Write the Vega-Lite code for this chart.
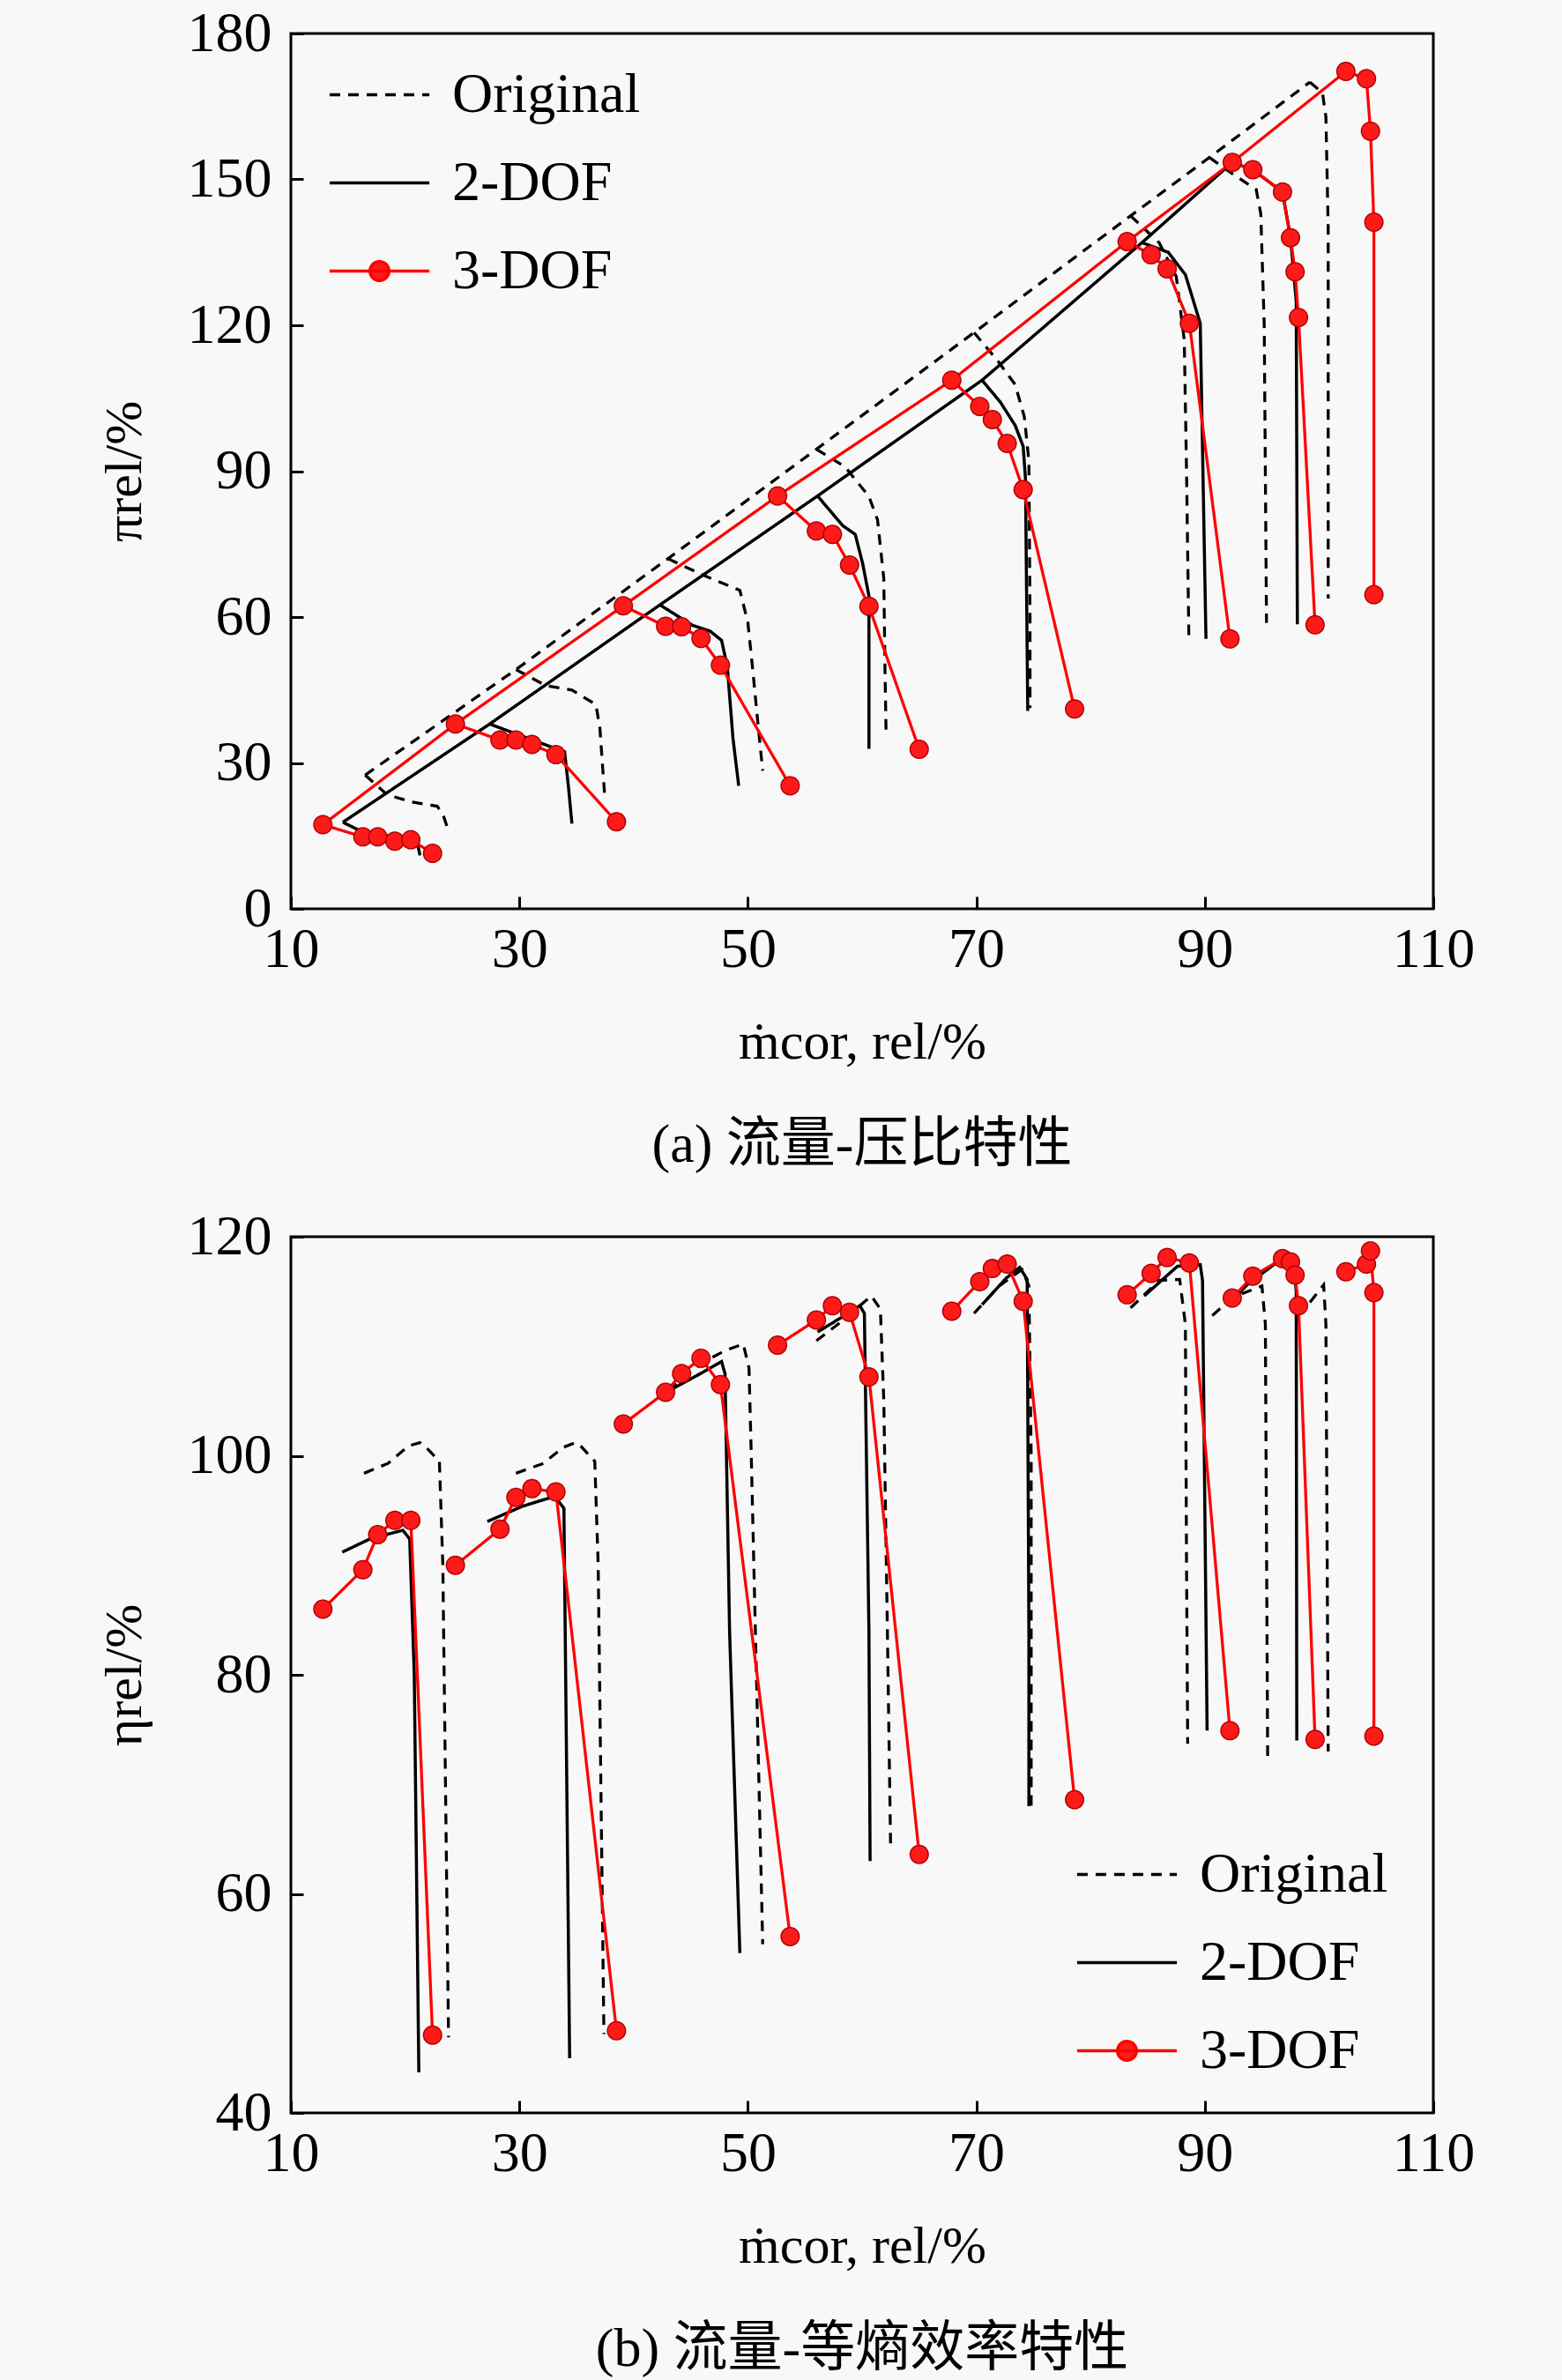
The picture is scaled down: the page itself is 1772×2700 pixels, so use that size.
{
  "$schema": "https://vega.github.io/schema/vega-lite/v6.json",
  "background": "#f8f8f8",
  "padding": {"left": 109, "top": 4, "right": 97, "bottom": 5},
  "spacing": 37,
  "resolve": {"scale": {"color": "independent", "strokeDash": "independent"}, "legend": {"color": "independent", "strokeDash": "independent"}},
  "config": {
    "font": "Liberation Serif",
    "view": {"stroke": "#000000", "strokeWidth": 3},
    "axis": {"domain": false, "grid": false, "ticks": true, "tickSize": -14, "tickWidth": 3, "tickColor": "#000000", "labelFont": "Liberation Serif", "labelFontSize": 64, "labelColor": "#000000", "labelFlush": false, "labelOverlap": false, "labelBound": false, "titleFont": "Liberation Serif", "titleFontSize": 60, "titleFontWeight": "normal", "titleColor": "#000000"},
    "axisX": {"labelPadding": 28, "titlePadding": 44},
    "axisY": {"labelPadding": 36, "titlePadding": 40},
    "legend": {"symbolType": "stroke", "symbolSize": 12800, "symbolStrokeWidth": 3.5, "labelFont": "Liberation Serif", "labelFontSize": 64, "labelColor": "#000000", "labelOffset": 24, "labelLimit": 0, "rowPadding": 9, "padding": 0, "title": null},
    "title": {"font": "Liberation Serif, Noto Sans CJK SC", "fontSize": 62, "fontWeight": "normal", "color": "#000000"}
  },
  "datasets": {
    "top": [
      {"series":"Original","line":"OS","i":0,"x":16.5,"y":27.5},{"series":"Original","line":"OS","i":1,"x":29.7,"y":49.2},{"series":"Original","line":"OS","i":2,"x":43.0,"y":72.0},{"series":"Original","line":"OS","i":3,"x":56.0,"y":94.5},{"series":"Original","line":"OS","i":4,"x":69.8,"y":118.5},{"series":"Original","line":"OS","i":5,"x":83.5,"y":142.5},{"series":"Original","line":"OS","i":6,"x":90.4,"y":154.5},{"series":"Original","line":"OS","i":7,"x":99.2,"y":170.0},
      {"series":"Original","line":"O1","i":0,"x":16.5,"y":27.5},{"series":"Original","line":"O1","i":1,"x":18.4,"y":23.5},{"series":"Original","line":"O1","i":2,"x":20.5,"y":22.0},{"series":"Original","line":"O1","i":3,"x":22.8,"y":21.1},{"series":"Original","line":"O1","i":4,"x":23.3,"y":19.5},{"series":"Original","line":"O1","i":5,"x":23.8,"y":16.0},
      {"series":"Original","line":"O2","i":0,"x":29.7,"y":49.2},{"series":"Original","line":"O2","i":1,"x":32.3,"y":45.9},{"series":"Original","line":"O2","i":2,"x":34.6,"y":45.0},{"series":"Original","line":"O2","i":3,"x":36.7,"y":42.0},{"series":"Original","line":"O2","i":4,"x":37.05,"y":37.1},{"series":"Original","line":"O2","i":5,"x":37.3,"y":28.7},{"series":"Original","line":"O2","i":6,"x":37.5,"y":22.3},
      {"series":"Original","line":"O3","i":0,"x":43.0,"y":72.0},{"series":"Original","line":"O3","i":1,"x":46.2,"y":68.5},{"series":"Original","line":"O3","i":2,"x":49.3,"y":65.5},{"series":"Original","line":"O3","i":3,"x":50.0,"y":58.9},{"series":"Original","line":"O3","i":4,"x":50.4,"y":49.8},{"series":"Original","line":"O3","i":5,"x":50.9,"y":37.7},{"series":"Original","line":"O3","i":6,"x":51.3,"y":28.4},
      {"series":"Original","line":"O4","i":0,"x":56.0,"y":94.5},{"series":"Original","line":"O4","i":1,"x":58.5,"y":90.9},{"series":"Original","line":"O4","i":2,"x":60.6,"y":84.8},{"series":"Original","line":"O4","i":3,"x":61.35,"y":80.0},{"series":"Original","line":"O4","i":4,"x":61.9,"y":67.9},{"series":"Original","line":"O4","i":5,"x":62.0,"y":50.0},{"series":"Original","line":"O4","i":6,"x":62.1,"y":36.0},
      {"series":"Original","line":"O5","i":0,"x":69.8,"y":118.5},{"series":"Original","line":"O5","i":1,"x":71.9,"y":112.6},{"series":"Original","line":"O5","i":2,"x":73.4,"y":107.8},{"series":"Original","line":"O5","i":3,"x":74.2,"y":101.2},{"series":"Original","line":"O5","i":4,"x":74.6,"y":92.1},{"series":"Original","line":"O5","i":5,"x":74.7,"y":60.0},{"series":"Original","line":"O5","i":6,"x":74.7,"y":41.3},
      {"series":"Original","line":"O6","i":0,"x":83.5,"y":142.5},{"series":"Original","line":"O6","i":1,"x":86.0,"y":137.0},{"series":"Original","line":"O6","i":2,"x":87.5,"y":130.0},{"series":"Original","line":"O6","i":3,"x":88.2,"y":117.0},{"series":"Original","line":"O6","i":4,"x":88.4,"y":90.0},{"series":"Original","line":"O6","i":5,"x":88.6,"y":56.3},
      {"series":"Original","line":"O7","i":0,"x":90.4,"y":154.5},{"series":"Original","line":"O7","i":1,"x":92.5,"y":151.0},{"series":"Original","line":"O7","i":2,"x":94.5,"y":147.9},{"series":"Original","line":"O7","i":3,"x":94.9,"y":142.9},{"series":"Original","line":"O7","i":4,"x":95.2,"y":120.0},{"series":"Original","line":"O7","i":5,"x":95.4,"y":58.8},
      {"series":"Original","line":"O8","i":0,"x":99.2,"y":170.0},{"series":"Original","line":"O8","i":1,"x":100.3,"y":167.8},{"series":"Original","line":"O8","i":2,"x":100.6,"y":162.8},{"series":"Original","line":"O8","i":3,"x":100.8,"y":140.0},{"series":"Original","line":"O8","i":4,"x":100.8,"y":63.8},
      {"series":"2-DOF","line":"TS","i":0,"x":14.55,"y":17.8},{"series":"2-DOF","line":"TS","i":1,"x":27.4,"y":38.0},{"series":"2-DOF","line":"TS","i":2,"x":42.3,"y":62.5},{"series":"2-DOF","line":"TS","i":3,"x":56.1,"y":84.9},{"series":"2-DOF","line":"TS","i":4,"x":70.5,"y":108.7},{"series":"2-DOF","line":"TS","i":5,"x":84.5,"y":137.0},{"series":"2-DOF","line":"TS","i":6,"x":92.4,"y":153.5},
      {"series":"2-DOF","line":"T1","i":0,"x":14.55,"y":17.8},{"series":"2-DOF","line":"T1","i":1,"x":16.1,"y":16.0},{"series":"2-DOF","line":"T1","i":2,"x":18.5,"y":15.0},{"series":"2-DOF","line":"T1","i":3,"x":21.0,"y":14.2},{"series":"2-DOF","line":"T1","i":4,"x":21.3,"y":11.0},
      {"series":"2-DOF","line":"T2","i":0,"x":27.4,"y":38.0},{"series":"2-DOF","line":"T2","i":1,"x":32.55,"y":33.5},{"series":"2-DOF","line":"T2","i":2,"x":33.96,"y":32.3},{"series":"2-DOF","line":"T2","i":3,"x":34.3,"y":25.0},{"series":"2-DOF","line":"T2","i":4,"x":34.6,"y":17.5},
      {"series":"2-DOF","line":"T3","i":0,"x":42.3,"y":62.5},{"series":"2-DOF","line":"T3","i":1,"x":45.15,"y":58.3},{"series":"2-DOF","line":"T3","i":2,"x":46.7,"y":57.1},{"series":"2-DOF","line":"T3","i":3,"x":47.7,"y":55.2},{"series":"2-DOF","line":"T3","i":4,"x":48.2,"y":49.8},{"series":"2-DOF","line":"T3","i":5,"x":48.7,"y":35.0},{"series":"2-DOF","line":"T3","i":6,"x":49.2,"y":25.3},
      {"series":"2-DOF","line":"T4","i":0,"x":56.1,"y":84.9},{"series":"2-DOF","line":"T4","i":1,"x":58.3,"y":78.8},{"series":"2-DOF","line":"T4","i":2,"x":59.4,"y":77.0},{"series":"2-DOF","line":"T4","i":3,"x":60.05,"y":71.0},{"series":"2-DOF","line":"T4","i":4,"x":60.6,"y":64.3},{"series":"2-DOF","line":"T4","i":5,"x":60.6,"y":32.9},
      {"series":"2-DOF","line":"T5","i":0,"x":70.5,"y":108.7},{"series":"2-DOF","line":"T5","i":1,"x":72.1,"y":104.2},{"series":"2-DOF","line":"T5","i":2,"x":73.4,"y":99.4},{"series":"2-DOF","line":"T5","i":3,"x":74.1,"y":95.1},{"series":"2-DOF","line":"T5","i":4,"x":74.3,"y":88.5},{"series":"2-DOF","line":"T5","i":5,"x":74.5,"y":40.7},
      {"series":"2-DOF","line":"T6","i":0,"x":84.5,"y":137.0},{"series":"2-DOF","line":"T6","i":1,"x":86.8,"y":135.0},{"series":"2-DOF","line":"T6","i":2,"x":88.3,"y":130.4},{"series":"2-DOF","line":"T6","i":3,"x":89.6,"y":120.4},{"series":"2-DOF","line":"T6","i":4,"x":90.1,"y":55.5},
      {"series":"2-DOF","line":"T7","i":0,"x":92.4,"y":153.5},{"series":"2-DOF","line":"T7","i":1,"x":94.2,"y":152.0},{"series":"2-DOF","line":"T7","i":2,"x":96.8,"y":147.4},{"series":"2-DOF","line":"T7","i":3,"x":97.5,"y":138.0},{"series":"2-DOF","line":"T7","i":4,"x":98.0,"y":125.0},{"series":"2-DOF","line":"T7","i":5,"x":98.1,"y":58.5},
      {"series":"3-DOF","line":"RS","i":0,"x":12.8,"y":17.3},{"series":"3-DOF","line":"RS","i":1,"x":24.4,"y":38.0},{"series":"3-DOF","line":"RS","i":2,"x":39.1,"y":62.3},{"series":"3-DOF","line":"RS","i":3,"x":52.6,"y":84.9},{"series":"3-DOF","line":"RS","i":4,"x":67.85,"y":108.7},{"series":"3-DOF","line":"RS","i":5,"x":83.2,"y":137.2},{"series":"3-DOF","line":"RS","i":6,"x":92.4,"y":153.5},{"series":"3-DOF","line":"RS","i":7,"x":102.35,"y":172.2},
      {"series":"3-DOF","line":"R1","i":0,"x":12.8,"y":17.3},{"series":"3-DOF","line":"R1","i":1,"x":16.3,"y":14.8},{"series":"3-DOF","line":"R1","i":2,"x":17.6,"y":14.8},{"series":"3-DOF","line":"R1","i":3,"x":19.1,"y":13.9},{"series":"3-DOF","line":"R1","i":4,"x":20.5,"y":14.2},{"series":"3-DOF","line":"R1","i":5,"x":22.4,"y":11.4},
      {"series":"3-DOF","line":"R2","i":0,"x":24.4,"y":38.0},{"series":"3-DOF","line":"R2","i":1,"x":28.3,"y":34.7},{"series":"3-DOF","line":"R2","i":2,"x":29.7,"y":34.7},{"series":"3-DOF","line":"R2","i":3,"x":31.1,"y":33.8},{"series":"3-DOF","line":"R2","i":4,"x":33.2,"y":31.7},{"series":"3-DOF","line":"R2","i":5,"x":38.5,"y":17.9},
      {"series":"3-DOF","line":"R3","i":0,"x":39.1,"y":62.3},{"series":"3-DOF","line":"R3","i":1,"x":42.8,"y":58.1},{"series":"3-DOF","line":"R3","i":2,"x":44.2,"y":58.0},{"series":"3-DOF","line":"R3","i":3,"x":45.9,"y":55.6},{"series":"3-DOF","line":"R3","i":4,"x":47.6,"y":50.1},{"series":"3-DOF","line":"R3","i":5,"x":53.7,"y":25.3},
      {"series":"3-DOF","line":"R4","i":0,"x":52.6,"y":84.9},{"series":"3-DOF","line":"R4","i":1,"x":56.0,"y":77.7},{"series":"3-DOF","line":"R4","i":2,"x":57.4,"y":77.0},{"series":"3-DOF","line":"R4","i":3,"x":58.9,"y":70.7},{"series":"3-DOF","line":"R4","i":4,"x":60.6,"y":62.2},{"series":"3-DOF","line":"R4","i":5,"x":65.0,"y":32.8},
      {"series":"3-DOF","line":"R5","i":0,"x":67.85,"y":108.7},{"series":"3-DOF","line":"R5","i":1,"x":70.3,"y":103.3},{"series":"3-DOF","line":"R5","i":2,"x":71.4,"y":100.6},{"series":"3-DOF","line":"R5","i":3,"x":72.7,"y":95.7},{"series":"3-DOF","line":"R5","i":4,"x":74.1,"y":86.2},{"series":"3-DOF","line":"R5","i":5,"x":78.6,"y":41.1},
      {"series":"3-DOF","line":"R6","i":0,"x":83.2,"y":137.2},{"series":"3-DOF","line":"R6","i":1,"x":85.3,"y":134.5},{"series":"3-DOF","line":"R6","i":2,"x":86.7,"y":131.6},{"series":"3-DOF","line":"R6","i":3,"x":88.65,"y":120.4},{"series":"3-DOF","line":"R6","i":4,"x":92.2,"y":55.5},
      {"series":"3-DOF","line":"R7","i":0,"x":92.4,"y":153.5},{"series":"3-DOF","line":"R7","i":1,"x":94.2,"y":152.0},{"series":"3-DOF","line":"R7","i":2,"x":96.8,"y":147.4},{"series":"3-DOF","line":"R7","i":3,"x":97.5,"y":138.0},{"series":"3-DOF","line":"R7","i":4,"x":97.9,"y":131.0},{"series":"3-DOF","line":"R7","i":5,"x":98.2,"y":121.6},{"series":"3-DOF","line":"R7","i":6,"x":99.65,"y":58.4},
      {"series":"3-DOF","line":"R8","i":0,"x":102.35,"y":172.2},{"series":"3-DOF","line":"R8","i":1,"x":104.15,"y":170.7},{"series":"3-DOF","line":"R8","i":2,"x":104.5,"y":159.9},{"series":"3-DOF","line":"R8","i":3,"x":104.8,"y":141.2},{"series":"3-DOF","line":"R8","i":4,"x":104.8,"y":64.6}
    ],
    "bottom": [
      {"series":"Original","line":"O1","i":0,"x":16.4,"y":98.4},{"series":"Original","line":"O1","i":1,"x":18.5,"y":99.3},{"series":"Original","line":"O1","i":2,"x":20.3,"y":100.9},{"series":"Original","line":"O1","i":3,"x":21.3,"y":101.2},{"series":"Original","line":"O1","i":4,"x":21.8,"y":100.8},{"series":"Original","line":"O1","i":5,"x":23.0,"y":99.5},{"series":"Original","line":"O1","i":6,"x":23.3,"y":90.0},{"series":"Original","line":"O1","i":7,"x":23.8,"y":46.9},
      {"series":"Original","line":"O2","i":0,"x":29.7,"y":98.4},{"series":"Original","line":"O2","i":1,"x":32.1,"y":99.3},{"series":"Original","line":"O2","i":2,"x":33.8,"y":100.75},{"series":"Original","line":"O2","i":3,"x":34.9,"y":101.2},{"series":"Original","line":"O2","i":4,"x":35.45,"y":100.8},{"series":"Original","line":"O2","i":5,"x":36.6,"y":99.5},{"series":"Original","line":"O2","i":6,"x":36.9,"y":90.0},{"series":"Original","line":"O2","i":7,"x":37.4,"y":47.2},
      {"series":"Original","line":"O3","i":0,"x":43.0,"y":106.0},{"series":"Original","line":"O3","i":1,"x":46.0,"y":108.5},{"series":"Original","line":"O3","i":2,"x":48.0,"y":109.6},{"series":"Original","line":"O3","i":3,"x":49.6,"y":110.2},{"series":"Original","line":"O3","i":4,"x":50.1,"y":108.0},{"series":"Original","line":"O3","i":5,"x":50.3,"y":100.0},{"series":"Original","line":"O3","i":6,"x":51.3,"y":55.4},
      {"series":"Original","line":"O4","i":0,"x":56.0,"y":110.5},{"series":"Original","line":"O4","i":1,"x":58.5,"y":112.5},{"series":"Original","line":"O4","i":2,"x":60.8,"y":114.6},{"series":"Original","line":"O4","i":3,"x":61.6,"y":113.4},{"series":"Original","line":"O4","i":4,"x":61.9,"y":105.0},{"series":"Original","line":"O4","i":5,"x":62.2,"y":85.0},{"series":"Original","line":"O4","i":6,"x":62.5,"y":64.0},
      {"series":"Original","line":"O5","i":0,"x":69.8,"y":113.0},{"series":"Original","line":"O5","i":1,"x":72.0,"y":115.5},{"series":"Original","line":"O5","i":2,"x":74.0,"y":117.0},{"series":"Original","line":"O5","i":3,"x":74.6,"y":115.5},{"series":"Original","line":"O5","i":4,"x":74.8,"y":100.0},{"series":"Original","line":"O5","i":5,"x":74.8,"y":68.0},
      {"series":"Original","line":"O6","i":0,"x":83.5,"y":113.5},{"series":"Original","line":"O6","i":1,"x":86.0,"y":116.0},{"series":"Original","line":"O6","i":2,"x":87.8,"y":116.1},{"series":"Original","line":"O6","i":3,"x":88.3,"y":112.0},{"series":"Original","line":"O6","i":4,"x":88.4,"y":90.0},{"series":"Original","line":"O6","i":5,"x":88.5,"y":73.7},
      {"series":"Original","line":"O7","i":0,"x":90.65,"y":112.8},{"series":"Original","line":"O7","i":1,"x":92.5,"y":114.5},{"series":"Original","line":"O7","i":2,"x":95.0,"y":115.5},{"series":"Original","line":"O7","i":3,"x":95.3,"y":112.0},{"series":"Original","line":"O7","i":4,"x":95.5,"y":72.6},
      {"series":"Original","line":"O8","i":0,"x":99.2,"y":114.0},{"series":"Original","line":"O8","i":1,"x":100.4,"y":115.6},{"series":"Original","line":"O8","i":2,"x":100.6,"y":112.0},{"series":"Original","line":"O8","i":3,"x":100.8,"y":73.0},
      {"series":"2-DOF","line":"T1","i":0,"x":14.5,"y":91.2},{"series":"2-DOF","line":"T1","i":1,"x":16.9,"y":92.4},{"series":"2-DOF","line":"T1","i":2,"x":19.8,"y":93.2},{"series":"2-DOF","line":"T1","i":3,"x":20.4,"y":92.4},{"series":"2-DOF","line":"T1","i":4,"x":20.8,"y":80.0},{"series":"2-DOF","line":"T1","i":5,"x":21.2,"y":43.7},
      {"series":"2-DOF","line":"T2","i":0,"x":27.2,"y":94.0},{"series":"2-DOF","line":"T2","i":1,"x":30.3,"y":95.4},{"series":"2-DOF","line":"T2","i":2,"x":33.1,"y":96.3},{"series":"2-DOF","line":"T2","i":3,"x":33.9,"y":95.2},{"series":"2-DOF","line":"T2","i":4,"x":34.4,"y":45.0},
      {"series":"2-DOF","line":"T3","i":0,"x":42.3,"y":105.5},{"series":"2-DOF","line":"T3","i":1,"x":45.5,"y":107.3},{"series":"2-DOF","line":"T3","i":2,"x":47.7,"y":108.6},{"series":"2-DOF","line":"T3","i":3,"x":48.0,"y":107.5},{"series":"2-DOF","line":"T3","i":4,"x":48.4,"y":84.0},{"series":"2-DOF","line":"T3","i":5,"x":49.3,"y":54.6},
      {"series":"2-DOF","line":"T4","i":0,"x":56.1,"y":111.3},{"series":"2-DOF","line":"T4","i":1,"x":58.3,"y":112.7},{"series":"2-DOF","line":"T4","i":2,"x":59.8,"y":113.7},{"series":"2-DOF","line":"T4","i":3,"x":60.2,"y":113.0},{"series":"2-DOF","line":"T4","i":4,"x":60.6,"y":83.8},{"series":"2-DOF","line":"T4","i":5,"x":60.7,"y":63.0},
      {"series":"2-DOF","line":"T5","i":0,"x":70.5,"y":113.8},{"series":"2-DOF","line":"T5","i":1,"x":72.65,"y":116.25},{"series":"2-DOF","line":"T5","i":2,"x":73.8,"y":117.2},{"series":"2-DOF","line":"T5","i":3,"x":74.45,"y":116.1},{"series":"2-DOF","line":"T5","i":4,"x":74.6,"y":83.8},{"series":"2-DOF","line":"T5","i":5,"x":74.6,"y":68.0},
      {"series":"2-DOF","line":"T6","i":0,"x":84.7,"y":114.6},{"series":"2-DOF","line":"T6","i":1,"x":87.6,"y":117.3},{"series":"2-DOF","line":"T6","i":2,"x":89.6,"y":117.45},{"series":"2-DOF","line":"T6","i":3,"x":89.8,"y":116.0},{"series":"2-DOF","line":"T6","i":4,"x":90.2,"y":74.9},
      {"series":"2-DOF","line":"T7","i":0,"x":92.4,"y":114.2},{"series":"2-DOF","line":"T7","i":1,"x":93.7,"y":115.6},{"series":"2-DOF","line":"T7","i":2,"x":96.1,"y":117.5},{"series":"2-DOF","line":"T7","i":3,"x":97.8,"y":117.5},{"series":"2-DOF","line":"T7","i":4,"x":98.0,"y":115.0},{"series":"2-DOF","line":"T7","i":5,"x":98.05,"y":74.0},
      {"series":"3-DOF","line":"R1","i":0,"x":12.8,"y":86.0},{"series":"3-DOF","line":"R1","i":1,"x":16.3,"y":89.6},{"series":"3-DOF","line":"R1","i":2,"x":17.6,"y":92.8},{"series":"3-DOF","line":"R1","i":3,"x":19.1,"y":94.1},{"series":"3-DOF","line":"R1","i":4,"x":20.5,"y":94.1},{"series":"3-DOF","line":"R1","i":5,"x":22.4,"y":47.1},
      {"series":"3-DOF","line":"R2","i":0,"x":24.4,"y":90.0},{"series":"3-DOF","line":"R2","i":1,"x":28.3,"y":93.3},{"series":"3-DOF","line":"R2","i":2,"x":29.7,"y":96.2},{"series":"3-DOF","line":"R2","i":3,"x":31.1,"y":97.0},{"series":"3-DOF","line":"R2","i":4,"x":33.2,"y":96.7},{"series":"3-DOF","line":"R2","i":5,"x":38.5,"y":47.5},
      {"series":"3-DOF","line":"R3","i":0,"x":39.1,"y":102.9},{"series":"3-DOF","line":"R3","i":1,"x":42.8,"y":105.8},{"series":"3-DOF","line":"R3","i":2,"x":44.2,"y":107.5},{"series":"3-DOF","line":"R3","i":3,"x":45.9,"y":108.9},{"series":"3-DOF","line":"R3","i":4,"x":47.6,"y":106.5},{"series":"3-DOF","line":"R3","i":5,"x":53.7,"y":56.1},
      {"series":"3-DOF","line":"R4","i":0,"x":52.6,"y":110.1},{"series":"3-DOF","line":"R4","i":1,"x":56.0,"y":112.4},{"series":"3-DOF","line":"R4","i":2,"x":57.4,"y":113.7},{"series":"3-DOF","line":"R4","i":3,"x":58.9,"y":113.1},{"series":"3-DOF","line":"R4","i":4,"x":60.6,"y":107.2},{"series":"3-DOF","line":"R4","i":5,"x":65.0,"y":63.6},
      {"series":"3-DOF","line":"R5","i":0,"x":67.85,"y":113.2},{"series":"3-DOF","line":"R5","i":1,"x":70.3,"y":115.9},{"series":"3-DOF","line":"R5","i":2,"x":71.4,"y":117.1},{"series":"3-DOF","line":"R5","i":3,"x":72.7,"y":117.5},{"series":"3-DOF","line":"R5","i":4,"x":74.1,"y":114.1},{"series":"3-DOF","line":"R5","i":5,"x":78.6,"y":68.6},
      {"series":"3-DOF","line":"R6","i":0,"x":83.2,"y":114.7},{"series":"3-DOF","line":"R6","i":1,"x":85.3,"y":116.65},{"series":"3-DOF","line":"R6","i":2,"x":86.7,"y":118.1},{"series":"3-DOF","line":"R6","i":3,"x":88.65,"y":117.6},{"series":"3-DOF","line":"R6","i":4,"x":92.2,"y":74.9},
      {"series":"3-DOF","line":"R7","i":0,"x":92.4,"y":114.4},{"series":"3-DOF","line":"R7","i":1,"x":94.2,"y":116.4},{"series":"3-DOF","line":"R7","i":2,"x":96.8,"y":118.0},{"series":"3-DOF","line":"R7","i":3,"x":97.5,"y":117.7},{"series":"3-DOF","line":"R7","i":4,"x":97.9,"y":116.5},{"series":"3-DOF","line":"R7","i":5,"x":98.2,"y":113.7},{"series":"3-DOF","line":"R7","i":6,"x":99.65,"y":74.1},
      {"series":"3-DOF","line":"R8","i":0,"x":102.35,"y":116.8},{"series":"3-DOF","line":"R8","i":1,"x":104.15,"y":117.5},{"series":"3-DOF","line":"R8","i":2,"x":104.5,"y":118.7},{"series":"3-DOF","line":"R8","i":3,"x":104.8,"y":114.9},{"series":"3-DOF","line":"R8","i":4,"x":104.8,"y":74.4}
    ]
  },
  "vconcat": [
    {
      "width": 1296, "height": 993,
      "data": {"name": "top"},
      "title": {"text": "(a) 流量-压比特性", "orient": "bottom", "anchor": "middle", "frame": "group", "offset": 57},
      "encoding": {
        "x": {"field": "x", "type": "quantitative", "scale": {"domain": [10, 110], "nice": false, "zero": false}, "axis": {"values": [10, 30, 50, 70, 90, 110], "title": "ṁcor, rel/%"}},
        "y": {"field": "y", "type": "quantitative", "scale": {"domain": [0, 180], "nice": false}, "axis": {"values": [0, 30, 60, 90, 120, 150, 180], "title": "πrel/%"}},
        "detail": {"field": "line"},
        "order": {"field": "i", "type": "quantitative"},
        "color": {"field": "series", "type": "nominal", "scale": {"domain": ["Original", "2-DOF", "3-DOF"], "range": ["#000000", "#000000", "#ff0000"]},
          "legend": {"orient": "none", "legendX": 42, "legendY": 11, "encode": {"symbols": {"update": {"shape": {"signal": "datum.value === '3-DOF' ? 'M-1,0L1,0M0.19,0A0.19,0.19,0,1,1,-0.19,0A0.19,0.19,0,1,1,0.19,0' : 'stroke'"}, "fill": {"signal": "datum.value === '3-DOF' ? '#ff1a1a' : 'transparent'"}}}}}},
        "strokeDash": {"field": "series", "type": "nominal", "scale": {"domain": ["Original", "2-DOF", "3-DOF"], "range": [[12, 9], [1, 0], [1, 0]]}}
      },
      "layer": [
        {"transform": [{"filter": "datum.series === 'Original'"}], "mark": {"type": "line", "strokeWidth": 3.3}},
        {"transform": [{"filter": "datum.series === '2-DOF'"}], "mark": {"type": "line", "strokeWidth": 3.5}},
        {"transform": [{"filter": "datum.series === '3-DOF'"}], "mark": {"type": "line", "strokeWidth": 3.3}},
        {"transform": [{"filter": "datum.series === '3-DOF' && datum.line !== 'RS'"}], "mark": {"type": "point", "filled": true, "size": 420, "stroke": "#b00000", "strokeWidth": 1.5, "opacity": 1}, "encoding": {"color": {"value": "#ff1a1a"}, "strokeDash": {"value": [1, 0]}}}
      ]
    },
    {
      "width": 1296, "height": 994,
      "data": {"name": "bottom"},
      "title": {"text": "(b) 流量-等熵效率特性", "orient": "bottom", "anchor": "middle", "frame": "group", "offset": 57},
      "encoding": {
        "x": {"field": "x", "type": "quantitative", "scale": {"domain": [10, 110], "nice": false, "zero": false}, "axis": {"values": [10, 30, 50, 70, 90, 110], "title": "ṁcor, rel/%"}},
        "y": {"field": "y", "type": "quantitative", "scale": {"domain": [40, 120], "nice": false, "zero": false}, "axis": {"values": [40, 60, 80, 100, 120], "title": "ηrel/%"}},
        "detail": {"field": "line"},
        "order": {"field": "i", "type": "quantitative"},
        "color": {"field": "series", "type": "nominal", "scale": {"domain": ["Original", "2-DOF", "3-DOF"], "range": ["#000000", "#000000", "#ff0000"]},
          "legend": {"orient": "none", "legendX": 890, "legendY": 665, "encode": {"symbols": {"update": {"shape": {"signal": "datum.value === '3-DOF' ? 'M-1,0L1,0M0.19,0A0.19,0.19,0,1,1,-0.19,0A0.19,0.19,0,1,1,0.19,0' : 'stroke'"}, "fill": {"signal": "datum.value === '3-DOF' ? '#ff1a1a' : 'transparent'"}}}}}},
        "strokeDash": {"field": "series", "type": "nominal", "scale": {"domain": ["Original", "2-DOF", "3-DOF"], "range": [[12, 9], [1, 0], [1, 0]]}}
      },
      "layer": [
        {"transform": [{"filter": "datum.series === 'Original'"}], "mark": {"type": "line", "strokeWidth": 3.3}},
        {"transform": [{"filter": "datum.series === '2-DOF'"}], "mark": {"type": "line", "strokeWidth": 3.5}},
        {"transform": [{"filter": "datum.series === '3-DOF'"}], "mark": {"type": "line", "strokeWidth": 3.3}},
        {"transform": [{"filter": "datum.series === '3-DOF'"}], "mark": {"type": "point", "filled": true, "size": 420, "stroke": "#b00000", "strokeWidth": 1.5, "opacity": 1}, "encoding": {"color": {"value": "#ff1a1a"}, "strokeDash": {"value": [1, 0]}}}
      ]
    }
  ]
}
